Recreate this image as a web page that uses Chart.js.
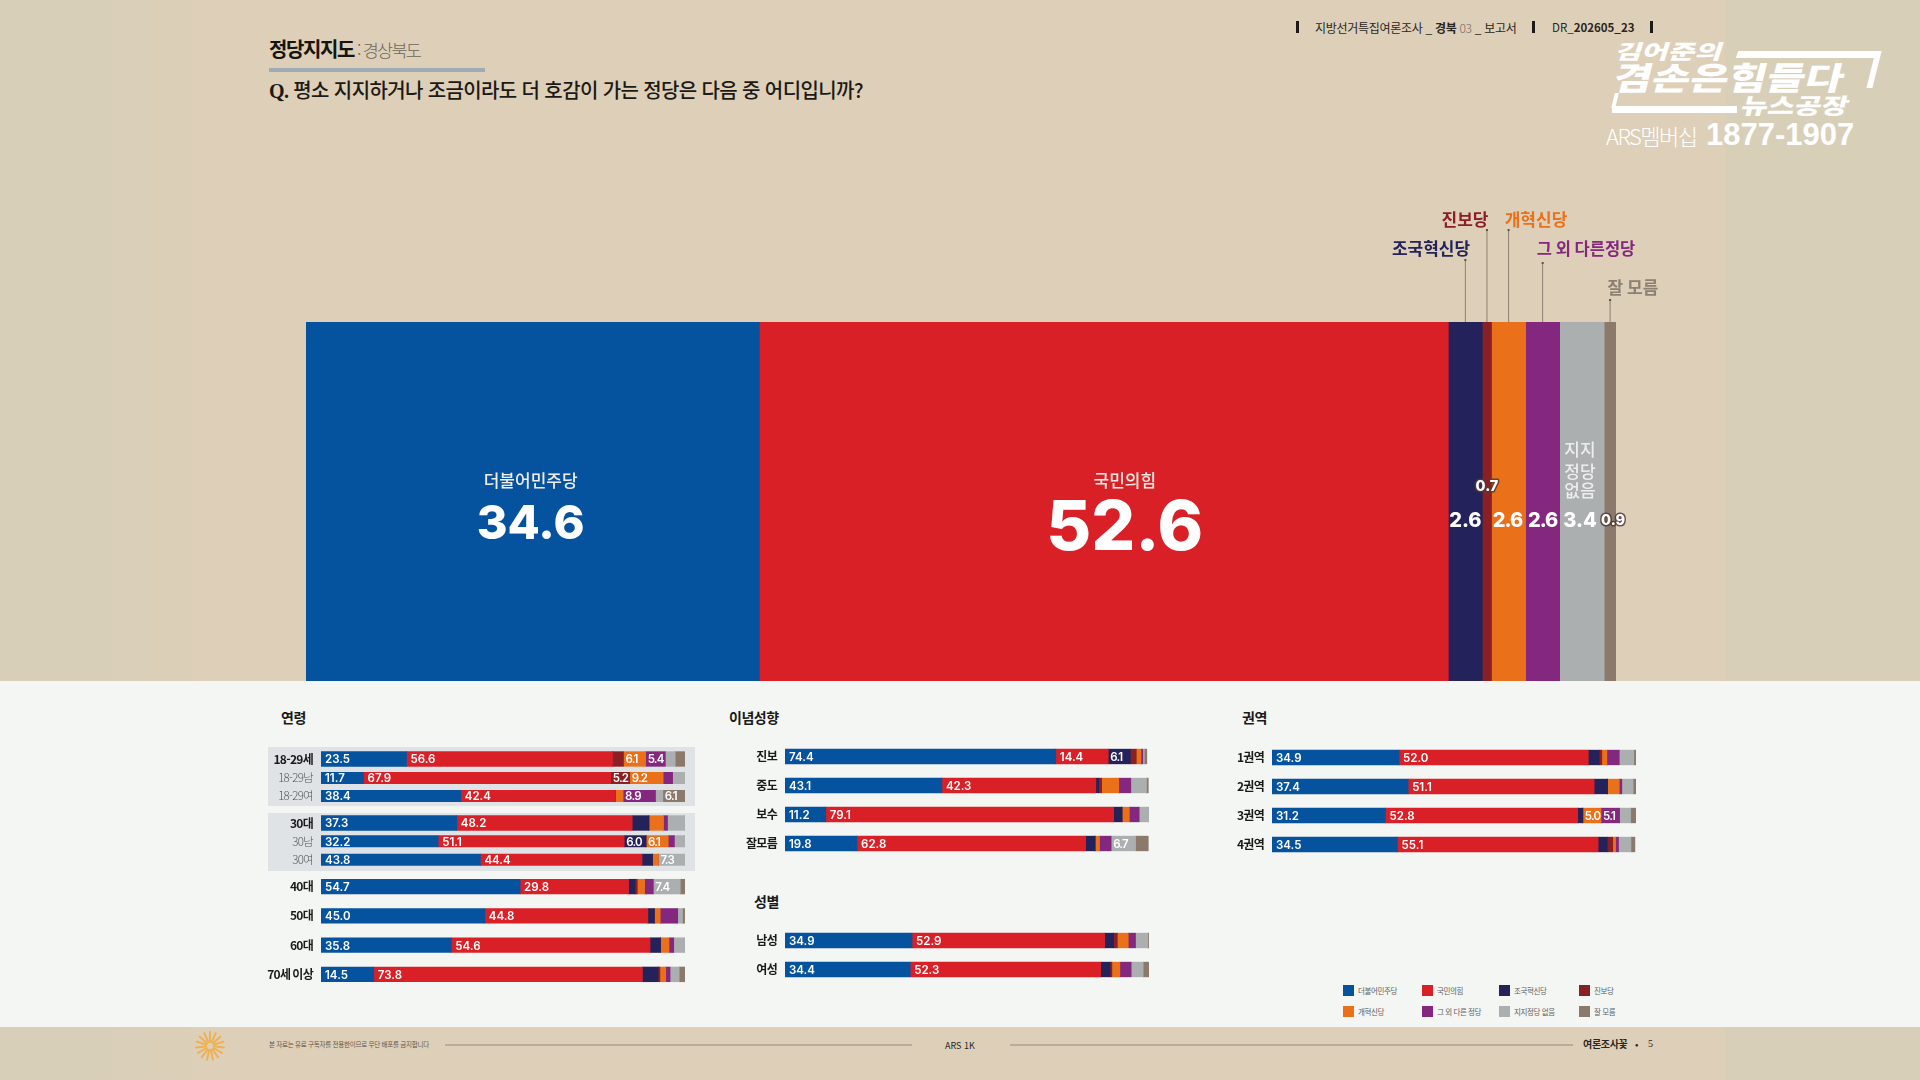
<!DOCTYPE html>
<html lang="ko">
<head>
<meta charset="utf-8">
<title>정당지지도 : 경상북도</title>
<script src="https://cdn.jsdelivr.net/npm/chart.js@4"></script>
<style>
  html, body { margin: 0; padding: 0; }
  body { width: 1920px; height: 1080px; position: relative; overflow: hidden;
         background: #decfb8; font-family: "Noto Sans CJK KR", "Noto Sans", sans-serif; }
  .abs { position: absolute; white-space: nowrap; line-height: 1; }
  .side { position: absolute; top: 0; height: 1080px; }
  .panel { position: absolute; left: 0; top: 681px; width: 1920px; height: 346px; background: #f4f6f3; }
  .shade { position: absolute; left: 268px; width: 427px; background: #dfe3e6; }
  canvas { position: absolute; display: block; }
  .sec { font-size: 14px; font-weight: 700; color: #1a1a1a; letter-spacing: -0.5px; }
  .tick { position: absolute; background: #1c1a17; width: 3px; height: 12px; top: 21px; }
  .logo { position: absolute; white-space: nowrap; line-height: 1; color: #fff; font-weight: 900; transform-origin: left top; }
  .bar { position: absolute; background: #fff; }
  .sw { position: absolute; width: 11px; height: 11px; }
  .lg { position: absolute; font-size: 7.5px; color: #5e5e5e; line-height: 1; white-space: nowrap; letter-spacing: -0.4px; }
</style>
</head>
<body>
<div class="side" style="left:0;width:220px;background:linear-gradient(90deg,#d8cfb9 0,#d8cfb9 90px,#decfb8 220px)"></div>
<div class="side" style="left:1725px;width:195px;background:#d8cfb9"></div>
<div class="panel"></div>
<div class="shade" style="top:747px;height:59px"></div>
<div class="shade" style="top:813px;height:58px"></div>

<div class="abs" style="left:269px;top:39px;font-size:20px;font-weight:700;color:#16140f;letter-spacing:-1.4px">정당지지도<span style="font-weight:300;color:#6d665c;font-size:17.5px;letter-spacing:-1.8px"> : 경상북도</span></div>
<div class="abs" style="left:269px;top:68px;width:216px;height:4px;background:#9eadb4"></div>
<div class="abs" style="left:269px;top:80px;font-size:20px;font-weight:500;color:#1c1a17;letter-spacing:-0.62px"><span style="font-family:'Liberation Serif',serif;font-weight:700">Q.</span> 평소 지지하거나 조금이라도 더 호감이 가는 정당은 다음 중 어디입니까?</div>

<div class="tick" style="left:1296px"></div>
<div class="tick" style="left:1532px"></div>
<div class="tick" style="left:1650px"></div>
<div class="abs" style="left:1315px;top:22px;font-size:12px;color:#2a2620;letter-spacing:-0.3px">지방선거특집여론조사 _ <b>경북</b> <span style="font-weight:300;color:#6d665c">03</span> _ 보고서</div>
<div class="abs" style="left:1552px;top:22px;font-size:11.5px;color:#2a2620">DR_<b>202605_23</b></div>

<div class="logo" style="left:1620px;top:41px;font-size:20px;transform:skewX(-18deg) scaleX(1.45)">김어준의</div>
<div class="bar" style="left:1737px;top:51px;width:143px;height:7px;transform:skewX(-18deg)"></div>
<div class="bar" style="left:1871px;top:51px;width:6px;height:37px;transform:skewX(-14deg)"></div>
<div class="logo" style="left:1619px;top:60px;font-size:32px;transform:skewX(-14deg) scaleX(1.3)">겸손은힘들다</div>
<div class="bar" style="left:1612px;top:106px;width:125px;height:7px"></div>
<div class="bar" style="left:1613px;top:93px;width:4px;height:15px;transform:skewX(-14deg)"></div>
<div class="logo" style="left:1745px;top:93px;font-size:22px;transform:skewX(-14deg) scaleX(1.32)">뉴스공장</div>
<div class="logo" style="left:1606px;top:124px;font-size:22px;font-weight:300;letter-spacing:-1.5px">ARS멤버십</div>
<div class="logo" style="left:1706px;top:119px;font-size:31px;font-weight:700;font-family:'Liberation Sans',sans-serif">1877-1907</div>

<div class="abs sec" style="left:281px;top:710px">연령</div>
<div class="abs sec" style="left:729px;top:710px">이념성향</div>
<div class="abs sec" style="left:754px;top:894px">성별</div>
<div class="abs sec" style="left:1242px;top:710px">권역</div>

<div id="legend"></div>

<svg id="flower" class="abs" style="left:194px;top:1030px" width="32" height="32"></svg>
<div class="abs" style="left:269px;top:1041px;font-size:6.5px;color:#5e574c;letter-spacing:-0.25px">본 자료는 유료 구독자를 전용한이므로 무단 배포를 금지합니다</div>
<div class="abs" style="left:445px;top:1044px;width:467px;height:2px;background:#b9ac98"></div>
<div class="abs" style="left:1010px;top:1044px;width:563px;height:2px;background:#b9ac98"></div>
<div class="abs" style="left:945px;top:1041px;font-size:9px;color:#2a2620">ARS 1K</div>
<div class="abs" style="left:1583px;top:1039px;font-size:10px;font-weight:700;color:#2a2620;letter-spacing:-0.3px">여론조사꽃</div>
<div class="abs" style="left:1635px;top:1039px;font-size:10px;color:#2a2620">•</div>
<div class="abs" style="left:1648px;top:1039px;font-size:10px;color:#2a2620;font-family:'Liberation Serif',serif">5</div>

<script>
// 정당 순서: 민주, 국힘, 조국, 진보, 개혁, 기타, 없음, 모름
const parties = ['더불어민주당', '국민의힘', '조국혁신당', '진보당', '개혁신당', '그 외 다른정당', '지지정당 없음', '잘 모름'];
const legendNames = ['더불어민주당', '국민의힘', '조국혁신당', '진보당', '개혁신당', '그 외 다른 정당', '지지정당 없음', '잘 모름'];
const mainValues = [34.6, 52.6, 2.6, 0.7, 2.6, 2.6, 3.4, 0.9];

const youngTotalLabels = ['18-29세'];
const youngTotal = [[23.5, 56.6, 0, 3.0, 6.1, 5.4, 2.7, 2.8]];
const youngSubLabels = ['18-29남', '18-29여'];
const youngSub = [
  [11.7, 67.9, 0, 5.2, 9.2, 2.6, 3.5, 0],
  [38.4, 42.4, 0, 0, 2.2, 8.9, 2.0, 6.1]
];
const thirtiesTotalLabels = ['30대'];
const thirtiesTotal = [[37.3, 48.2, 4.6, 0, 4.0, 1.1, 4.8, 0]];
const thirtiesSubLabels = ['30남', '30여'];
const thirtiesSub = [
  [32.2, 51.1, 6.0, 0, 6.1, 1.7, 2.9, 0],
  [43.8, 44.4, 2.9, 0, 1.6, 0, 7.3, 0]
];
const olderLabels = ['40대', '50대', '60대', '70세 이상'];
const older = [
  [54.7, 29.8, 1.8, 0.6, 2.0, 2.4, 7.4, 1.4],
  [45.0, 44.8, 1.8, 0, 1.6, 4.8, 1.3, 0.6],
  [35.8, 54.6, 2.9, 0, 2.3, 1.3, 3.1, 0],
  [14.5, 73.8, 4.3, 0.5, 1.6, 1.2, 2.5, 1.6]
];
const ideologyLabels = ['진보', '중도', '보수', '잘모름'];
const ideology = [
  [74.4, 14.4, 6.1, 1.6, 1.3, 0.5, 0.4, 0.7],
  [43.1, 42.3, 0.8, 0.8, 4.7, 3.3, 4.3, 0.5],
  [11.2, 79.1, 2.3, 0, 2.0, 2.7, 2.7, 0],
  [19.8, 62.8, 2.6, 0, 1.2, 3.2, 6.7, 3.5]
];
const genderLabels = ['남성', '여성'];
const gender = [
  [34.9, 52.9, 2.5, 1.0, 3.0, 2.0, 3.4, 0.3],
  [34.4, 52.3, 2.6, 0.5, 2.2, 3.1, 3.3, 1.6]
];
const regionLabels = ['1권역', '2권역', '3권역', '4권역'];
const region = [
  [34.9, 52.0, 3.0, 0.7, 1.4, 3.4, 4.0, 0.6],
  [37.4, 51.1, 3.7, 0, 3.2, 0.7, 3.1, 0.8],
  [31.2, 52.8, 1.4, 0, 5.0, 5.1, 3.0, 1.6],
  [34.5, 55.1, 2.5, 1.5, 0.8, 0.8, 3.4, 1.1]
];

const colors = ['#05529e', '#d92027', '#24225a', '#8b2024', '#ea7019', '#84277f', '#abafb0', '#8b7a6b'];
const numFont = 'Inter, "Noto Sans", sans-serif';
const krFont = '"Noto Sans CJK KR", sans-serif';

Chart.defaults.animation = false;
Chart.defaults.responsive = false;
Chart.defaults.plugins.legend.display = false;
Chart.defaults.plugins.tooltip.enabled = false;

function addCanvas(left, top, width, height) {
  const c = document.createElement('canvas');
  c.width = width;
  c.height = height;
  c.style.cssText = `left:${left}px;top:${top}px;width:${width}px;height:${height}px`;
  document.body.appendChild(c);
  return c.getContext('2d');
}

// 5% 이상 구간에만 값 표시
const segmentLabels = {
  id: 'segmentLabels',
  beforeDraw(chart) {
    chart.ctx.letterSpacing = '-0.7px';  // y축 라벨 자간
  },
  afterDatasetsDraw(chart) {
    const ctx = chart.ctx;
    ctx.save();
    ctx.fillStyle = '#fff';
    ctx.font = `600 11.5px ${numFont}`;
    ctx.textAlign = 'left';
    ctx.textBaseline = 'middle';
    chart.data.datasets.forEach((ds, i) => {
      chart.getDatasetMeta(i).data.forEach((bar, j) => {
        const v = ds.data[j];
        if (v >= 5) {
          // 한 자리 값은 좁은 칸에 들어가도록 붙여 쓴다
          ctx.letterSpacing = v < 10 ? '-0.8px' : '0px';
          ctx.fillText(v.toFixed(1), bar.base + (v < 10 ? 2 : 4), bar.y + 1);
        }
      });
    });
    ctx.restore();
  }
};

function drawRows(labels, rows, barLeft, firstY, pitch, thick, tickFont, tickColor) {
  const axisW = 70, barW = 364;
  const ctx = addCanvas(barLeft - axisW, Math.round(firstY - pitch / 2), axisW + barW, Math.round(pitch * rows.length));
  new Chart(ctx, {
    type: 'bar',
    plugins: [segmentLabels],
    data: {
      labels: labels,
      datasets: parties.map((name, p) => ({
        label: name,
        data: rows.map(r => r[p]),
        backgroundColor: colors[p],
        barThickness: thick
      }))
    },
    options: {
      indexAxis: 'y',
      layout: { padding: 0 },
      scales: {
        x: { stacked: true, display: false, min: 0, max: 100 },
        y: {
          stacked: true,
          // 라벨 높이만큼 줄어들지 않게 여백 제거
          afterFit: s => { s.width = axisW; s.paddingTop = 0; s.paddingBottom = 0; },
          grid: { display: false, drawTicks: false },
          border: { display: false },
          ticks: { font: tickFont, color: tickColor, padding: 8, autoSkip: false }
        }
      }
    }
  });
}

const boldTick = { family: krFont, size: 12, weight: '700' };
const thinTick = { family: krFont, size: 11.5, weight: '300' };
const darkTick = '#1a1a1a', greyTick = '#4f5559';

drawRows(youngTotalLabels, youngTotal, 321, 759.3, 18, 14.7, boldTick, darkTick);
drawRows(youngSubLabels, youngSub, 321, 777.7, 18.1, 11.3, thinTick, greyTick);
drawRows(thirtiesTotalLabels, thirtiesTotal, 321, 823.3, 18, 14.7, boldTick, darkTick);
drawRows(thirtiesSubLabels, thirtiesSub, 321, 841.3, 18.3, 11.3, thinTick, greyTick);
drawRows(olderLabels, older, 321, 886.7, 29.2, 14.7, boldTick, darkTick);
drawRows(ideologyLabels, ideology, 785, 756.7, 29.1, 14.7, boldTick, darkTick);
drawRows(genderLabels, gender, 785, 940.7, 29, 14.7, boldTick, darkTick);
drawRows(regionLabels, region, 1272, 757.7, 29.1, 14.7, boldTick, darkTick);

// 큰 막대 위쪽 콜아웃
const mainTop = 132;
const callouts = [
  { i: 2, text: '조국혁신당', x: 1125, y: 59, lineY: 70, color: '#24225a', size: 17 },
  { i: 3, text: '진보당', x: 1159, y: 30, lineY: 40, color: '#8b2024', size: 17 },
  { i: 4, text: '개혁신당', x: 1230, y: 30, lineY: 40, color: '#ea7019', size: 17 },
  { i: 5, text: '그 외 다른정당', x: 1280, y: 59, lineY: 73, color: '#84277f', size: 16.5 },
  { i: 7, text: '잘 모름', x: 1327, y: 98, lineY: 110, color: '#8b8072', size: 17 }
];
const insideText = [
  { i: 0, name: '더불어민주당', size: 47, y: 203, nameSize: 17, nameY: 159, dx: -2 },
  { i: 1, name: '국민의힘', size: 69, y: 207, nameSize: 17, nameY: 159, dx: 21 },
  { i: 2, size: 20, y: 199 },
  { i: 3, size: 14.5, y: 165, outline: true },
  { i: 4, size: 20, y: 199, dx: -1, tight: true },
  { i: 5, size: 20, y: 199, tight: true },
  { i: 6, size: 20, y: 199, dx: -2 },
  { i: 7, size: 14.5, y: 199, outline: true, dx: 3 }
];
const noPartyLines = ['지지', '정당', '없음'];
const noPartyY = [128, 150, 169];

const mainDecor = {
  id: 'mainDecor',
  afterDatasetsDraw(chart) {
    const ctx = chart.ctx;
    const centerOf = i => {
      const bar = chart.getDatasetMeta(i).data[0];
      return (bar.base + bar.x) / 2;
    };
    const top = chart.chartArea.top;
    ctx.save();
    ctx.textAlign = 'center';
    ctx.textBaseline = 'middle';
    callouts.forEach(c => {
      const x = centerOf(c.i);
      ctx.strokeStyle = '#8a8071';
      ctx.lineWidth = 1;
      ctx.beginPath();
      ctx.moveTo(x, c.lineY);
      ctx.lineTo(x, top);
      ctx.stroke();
      ctx.fillStyle = '#5b5348';
      ctx.fillRect(x - 1, c.lineY - 1, 2, 2);
      ctx.fillStyle = c.color;
      ctx.font = `700 ${c.size}px ${krFont}`;
      ctx.fillText(c.text, c.x, c.y);
    });
    insideText.forEach(t => {
      const x = centerOf(t.i) + (t.dx || 0);
      ctx.font = `800 ${t.size}px ${numFont}`;
      ctx.letterSpacing = t.tight ? '-1px' : '0px';
      const txt = mainValues[t.i].toFixed(1);
      if (t.outline) {
        ctx.strokeStyle = 'rgba(80,60,50,0.85)';
        ctx.lineWidth = 3;
        ctx.lineJoin = 'round';
        ctx.strokeText(txt, x, top + t.y);
      }
      ctx.fillStyle = '#fff';
      ctx.fillText(txt, x, top + t.y);
      ctx.letterSpacing = '0px';
      if (t.name) {
        ctx.font = `500 ${t.nameSize}px ${krFont}`;
        ctx.fillStyle = '#f1ece6';
        ctx.fillText(t.name, x, top + t.nameY);
      }
    });
    ctx.font = `500 17px ${krFont}`;
    ctx.fillStyle = '#eceded';
    noPartyLines.forEach((s, k) => ctx.fillText(s, centerOf(6) - 2, top + noPartyY[k]));
    ctx.restore();
  }
};

new Chart(addCanvas(306, 190, 1400, 491), {
  type: 'bar',
  plugins: [mainDecor],
  data: {
    labels: ['정당지지도'],
    datasets: parties.map((name, p) => ({
      label: name,
      data: [mainValues[p]],
      backgroundColor: colors[p],
      barPercentage: 1,
      categoryPercentage: 1
    }))
  },
  options: {
    indexAxis: 'y',
    layout: { padding: { top: mainTop, right: 90, left: 0, bottom: 0 } },
    scales: {
      x: { stacked: true, display: false, min: 0, max: 100 },
      y: { stacked: true, display: false }
    }
  }
});

// 범례
const legendBox = document.getElementById('legend');
const legendX = [1343, 1422, 1499, 1579];
const legendY = [985, 1006];
legendNames.forEach((name, i) => {
  const x = legendX[i % 4], y = legendY[i < 4 ? 0 : 1];
  legendBox.insertAdjacentHTML('beforeend',
    `<div class="sw" style="left:${x}px;top:${y}px;background:${colors[i]}"></div>` +
    `<div class="lg" style="left:${x + 15}px;top:${y + 2}px">${name}</div>`);
});

// 꽃 아이콘
let rays = '';
for (let a = 0; a < 360; a += 24) {
  rays += `<line x1="16" y1="2" x2="16" y2="12" transform="rotate(${a} 16 16)" stroke="#eeb050" stroke-width="1.9" stroke-linecap="round"/>`;
}
document.getElementById('flower').innerHTML = rays;
</script>
</body>
</html>
